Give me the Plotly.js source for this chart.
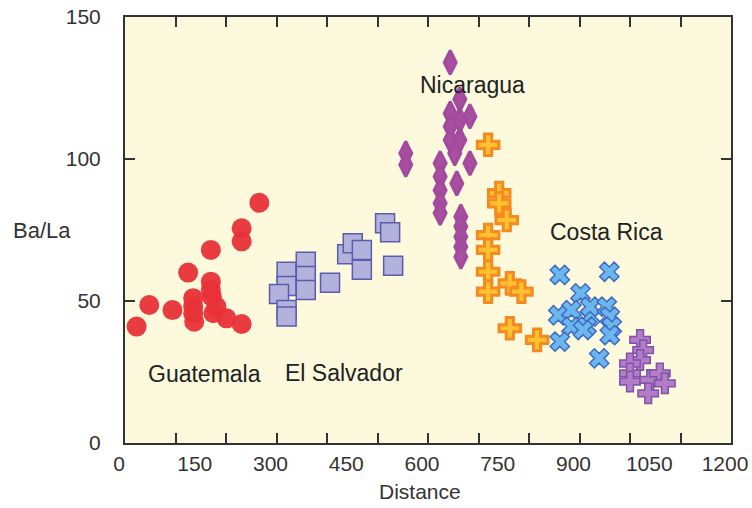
<!DOCTYPE html>
<html>
<head>
<meta charset="utf-8">
<script src="https://cdn.plot.ly/plotly-3.0.1.min.js"></script>
<style>
html,body{margin:0;padding:0;background:#fff;}
#chart{width:752px;height:508px;}
</style>
</head>
<body>
<div id="chart"></div>
<script>
// Guatemala (red circles)
const guatemalaX = [23,48,94,125,170,266,231,231,170,170,135,135,135,137,175,181,201,231,172];
const guatemalaY = [41,48.6,46.8,60,68,84.6,75.6,71,56.8,53.9,51,48,45.7,42.7,45.7,48,43.9,41.9,51.5];
// El Salvador (squares)
const salvadorX = [320,320,305,320,320,358,358,358,406,440,451,469,469,515,525,531];
const salvadorY = [60.3,55.3,52.5,46.8,44.5,63.8,58.8,53.9,56.4,66.5,70.3,68,61,77.4,74.2,62.4];
// Nicaragua (diamonds)
const nicaraguaX = [644,556,556,663,683,644,644,663,644,663,653,683,624,624,657,624,624,624,665,665,665,665,665];
const nicaraguaY = [134,102,98,121,115,116,111.4,113.7,106.7,106.7,102,98.5,98.5,93.8,91.4,89,84.4,81,79.7,76.2,72.6,69.1,65.6];
// Nicaragua second group (orange crosses)
const nicaragua2X = [719,741,741,756,719,719,719,719,762,785,762,816];
const nicaragua2Y = [105,88,84.4,78.5,73.2,68,60.3,53.3,56.2,53.3,40.4,36.3];
// Costa Rica (blue x)
const costaX = [861,959,902,858,884,921,921,954,960,964,884,914,861,960,939,907];
const costaY = [59.2,60.3,52.7,45,46.8,44.5,48,48,44.5,41,41,41,35.7,38,29.8,39.8];
// Costa Rica second group (purple crosses)
const costa2X = [1020,1026,1020,1000,1000,1000,1040,1059,1069,1036];
const costa2Y = [36.3,32.7,29.2,28,24.5,21.6,22.2,24.5,21,17.5];

const xTickVals = [0,150,300,450,600,750,900,1050,1200];
const yTickVals = [0,50,100,150];

const traces = [
  {x: guatemalaX, y: guatemalaY, type:'scatter', mode:'markers',
   marker:{symbol:'circle', size:20, color:'rgba(232,50,56,0.95)', line:{width:0}}},
  {x: salvadorX, y: salvadorY, type:'scatter', mode:'markers',
   marker:{symbol:'square', size:19, color:'#b2b2dc', line:{width:1.5, color:'#5c5cac'}}},
  {x: nicaraguaX, y: nicaraguaY, type:'scatter', mode:'markers',
   marker:{symbol:'diamond-tall', size:17, color:'#a94ea2', line:{width:3, color:'#a24a9c'}}},
  {x: nicaragua2X, y: nicaragua2Y, type:'scatter', mode:'markers',
   marker:{symbol:'cross', size:18, color:'#ffc22e', line:{width:3, color:'#f58a22'}}},
  {x: costaX, y: costaY, type:'scatter', mode:'markers',
   marker:{symbol:'x', size:17, color:'#6cb6ee', line:{width:1.5, color:'#3f6cc2'}}},
  {x: costa2X, y: costa2Y, type:'scatter', mode:'markers',
   marker:{symbol:'cross', size:17, color:'#b27cc6', line:{width:1.5, color:'#7e52a8'}}},
  // invisible trace to carry the labelled x axis
  {x: [0,1200], y: [0,0], xaxis:'x2', type:'scatter', mode:'markers',
   marker:{opacity:0}, hoverinfo:'skip'}
];

const fontFam = '"Liberation Sans", Arial, sans-serif';
const annFont = {family:fontFam, size:23, color:'#222'};
const layout = {
  width:752, height:508,
  margin:{l:125, r:21, t:17, b:65},
  paper_bgcolor:'#ffffff',
  plot_bgcolor:'#fcf9dc',
  showlegend:false,
  font:{family:fontFam, size:21, color:'#333'},
  xaxis:{
    range:[0,1200], tickmode:'linear', tick0:0, dtick:100,
    ticks:'inside', ticklen:10, tickwidth:2, tickcolor:'#333',
    showticklabels:false, showgrid:false, zeroline:false,
    showline:true, linewidth:2, linecolor:'#333', mirror:'ticks'
  },
  xaxis2:{
    range:[0,1200], overlaying:'x', anchor:'y', side:'bottom',
    tickmode:'array', tickvals:xTickVals, ticktext:xTickVals.map(String),
    ticks:'', showgrid:false, zeroline:false, showline:false,
    tickfont:{family:fontFam, size:21, color:'#333'},
    ticklabelstandoff:6, ticklabelshift:-6
  },
  yaxis:{
    range:[0,150], tickmode:'array', tickvals:yTickVals, ticktext:yTickVals.map(String),
    ticks:'inside', ticklen:10, tickwidth:2, tickcolor:'#333',
    showgrid:false, zeroline:false,
    showline:true, linewidth:2, linecolor:'#333', mirror:'ticks',
    tickfont:{family:fontFam, size:21, color:'#333'},
    ticklabelstandoff:18
  },
  annotations:[
    {text:'Nicaragua', x:689, y:126, xref:'x', yref:'y', xanchor:'center', yanchor:'middle', showarrow:false, font:annFont},
    {text:'Costa Rica', x:954, y:74.3, xref:'x', yref:'y', xanchor:'center', yanchor:'middle', showarrow:false, font:annFont},
    {text:'Guatemala', x:158, y:24.3, xref:'x', yref:'y', xanchor:'center', yanchor:'middle', showarrow:false, font:annFont},
    {text:'El Salvador', x:434, y:24.6, xref:'x', yref:'y', xanchor:'center', yanchor:'middle', showarrow:false, font:annFont},
    {text:'Ba/La', x:-0.137, y:0.498, xref:'paper', yref:'paper', xanchor:'center', yanchor:'middle', showarrow:false, font:{family:fontFam, size:22, color:'#333'}},
    {text:'Distance', x:0.487, y:-0.115, xref:'paper', yref:'paper', xanchor:'center', yanchor:'middle', showarrow:false, font:{family:fontFam, size:21, color:'#333'}}
  ]
};

Plotly.newPlot('chart', traces, layout, {staticPlot:true, displayModeBar:false});
</script>
</body>
</html>
